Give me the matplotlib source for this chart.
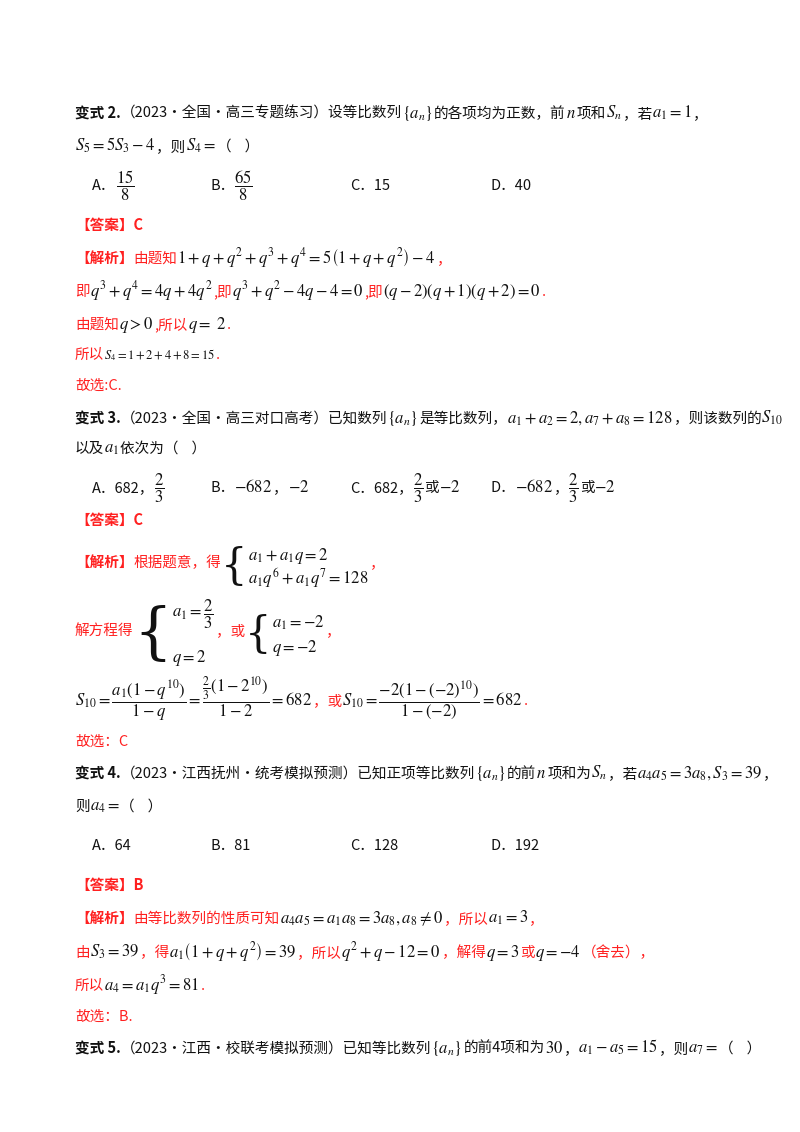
import matplotlib
matplotlib.use('Agg')
import matplotlib.pyplot as plt

plt.rcParams['mathtext.fontset'] = 'stix'
plt.rcParams['font.family'] = ['Noto Sans CJK SC', 'DejaVu Sans']

W, H = 800, 1132
RED = '#ff2020'
BLK = '#111111'

# 每行：(基线像素 y, 起点 x, 片段列表)
# 片段: ('b', 文字) 加粗黑; ('t', 文字) 黑; ('r', 文字) 红; ('rb', 文字) 红粗; ('m', 公式); ('sys', [式1, 式2])
LINES = [
    (118, 75, [('b', '变式 2.'), ('t', '（2023·全国·高三专题练习）设等比数列'), ('m', r'\{a_n\}'),
               ('t', '的各项均为正数，前'), ('m', 'n'), ('t', '项和'), ('m', 'S_n'), ('t', '，若'),
               ('m', 'a_1=1'), ('t', '，')]),
    (151, 75, [('m', 'S_5=5S_3-4'), ('t', '，则'), ('m', 'S_4='), ('t', '（    ）')]),
    (190, 92, [('t', 'A．'), ('m', r'\dfrac{15}{8}')]),
    (190, 210, [('t', 'B．'), ('m', r'\dfrac{65}{8}')]),
    (190, 350, [('t', 'C．15')]),
    (190, 490, [('t', 'D．40')]),
    (230, 75, [('rb', '【答案】C')]),
    (263, 75, [('rb', '【解析】'), ('r', '由题知'), ('m', r'1+q+q^2+q^3+q^4=5\left(1+q+q^2\right)-4'), ('r', '，')]),
    (296, 75, [('r', '即'), ('m', 'q^3+q^4=4q+4q^2'), ('r', ',即'), ('m', 'q^3+q^2-4q-4=0'),
               ('r', ',即'), ('m', '(q-2)(q+1)(q+2)=0'), ('r', '.')]),
    (329, 75, [('r', '由题知'), ('m', 'q>0'), ('r', ',所以'), ('m', r'q=\ 2'), ('r', '.')]),
    (359, 75, [('r', '所以'), ('ms', 'S_4=1+2+4+8=15'), ('r', '.')]),
    (390, 75, [('r', '故选:C.')]),
    (423, 75, [('b', '变式 3.'), ('t', '（2023·全国·高三对口高考）已知数列'), ('m', r'\{a_n\}'),
               ('t', '是等比数列，'), ('m', 'a_1+a_2=2,a_7+a_8=128'), ('t', '，则该数列的'), ('m', 'S_{10}')]),
    (453, 75, [('t', '以及'), ('m', 'a_1'), ('t', '依次为（    ）')]),
    (492, 92, [('t', 'A．682，'), ('m', r'\dfrac{2}{3}')]),
    (492, 210, [('t', 'B．'), ('m', '-682'), ('t', '，'), ('m', '-2')]),
    (492, 350, [('t', 'C．682，'), ('m', r'\dfrac{2}{3}'), ('t', '或'), ('m', '-2')]),
    (492, 490, [('t', 'D．'), ('m', '-682'), ('t', '，'), ('m', r'\dfrac{2}{3}'), ('t', '或'), ('m', '-2')]),
    (525, 75, [('rb', '【答案】C')]),
    (567, 75, [('rb', '【解析】'), ('r', '根据题意，得'), ('sys', ['a_1+a_1q=2', 'a_1q^6+a_1q^7=128']), ('r', '，')]),
    (635, 75, [('r', '解方程得'), ('sys', [r'a_1=\dfrac{2}{3}', 'q=2']), ('r', '，或'),
               ('sys', ['a_1=-2', 'q=-2']), ('r', '，')]),
    (705, 75, [('m', r'S_{10}=\dfrac{a_1(1-q^{10})}{1-q}=\dfrac{\frac{2}{3}(1-2^{10})}{1-2}=682'), ('r', '，或'),
               ('m', r'S_{10}=\dfrac{-2(1-(-2)^{10})}{1-(-2)}=682'), ('r', '.')]),
    (746, 75, [('r', '故选：C')]),
    (778, 75, [('b', '变式 4.'), ('t', '（2023·江西抚州·统考模拟预测）已知正项等比数列'), ('m', r'\{a_n\}'),
               ('t', '的前'), ('m', 'n'), ('t', '项和为'), ('m', 'S_n'), ('t', '，若'),
               ('m', 'a_4a_5=3a_8,S_3=39'), ('t', '，')]),
    (811, 75, [('t', '则'), ('m', 'a_4='), ('t', '（    ）')]),
    (850, 92, [('t', 'A．64')]),
    (850, 210, [('t', 'B．81')]),
    (850, 350, [('t', 'C．128')]),
    (850, 490, [('t', 'D．192')]),
    (890, 75, [('rb', '【答案】B')]),
    (923, 75, [('rb', '【解析】'), ('r', '由等比数列的性质可知'), ('m', r'a_4a_5=a_1a_8=3a_8,a_8\neq 0'),
               ('r', '，所以'), ('m', 'a_1=3'), ('r', '，')]),
    (957, 75, [('r', '由'), ('m', 'S_3=39'), ('r', '，得'), ('m', r'a_1\left(1+q+q^2\right)=39'), ('r', '，所以'),
               ('m', 'q^2+q-12=0'), ('r', '，解得'), ('m', 'q=3'), ('r', '或'), ('m', 'q=-4'), ('r', '（舍去），')]),
    (990, 75, [('r', '所以'), ('m', 'a_4=a_1q^3=81'), ('r', '.')]),
    (1021, 75, [('r', '故选：B.')]),
    (1053, 75, [('b', '变式 5.'), ('t', '（2023·江西·校联考模拟预测）已知等比数列'), ('m', r'\{a_n\}'),
                ('t', '的前4项和为'), ('m', '30'), ('t', '，'), ('m', 'a_1-a_5=15'), ('t', '，则'),
                ('m', 'a_7='), ('t', '（    ）')]),
]

fig = plt.figure(figsize=(W / 100, H / 100), dpi=100)
fig.patch.set_facecolor('white')
renderer = fig.canvas.get_renderer()


def put(x, y, s, **kw):
    t = fig.text(x / W, 1 - y / H, s, va='baseline', ha='left', **kw)
    bb = t.get_window_extent(renderer)
    return bb.width


def draw_line(y, x, segs):
    for kind, val in segs:
        if kind in ('t', 'b', 'r', 'rb'):
            color = RED if kind.startswith('r') else BLK
            weight = 'bold' if kind.endswith('b') else 'normal'
            x += put(x, y, val, fontsize=10.5, color=color, fontweight=weight)
        elif kind == 'm':
            x += put(x, y, '$' + val + '$', fontsize=12, color=BLK) + 1
        elif kind == 'ms':
            x += put(x, y, '$' + val + '$', fontsize=9, color=BLK) + 1
        elif kind == 'sys':
            tall = any('frac' in v for v in val)
            dy = 22 if tall else 12
            fs = 44 if tall else 30
            # 大括号竖直居中于两行之间
            t = fig.text(x / W, 1 - y / H, '{', fontsize=fs, color=BLK, family='DejaVu Serif',
                         va='center', ha='left', fontweight='light')
            bw = t.get_window_extent(renderer).width
            w1 = put(x + bw, y - dy + 5, '$' + val[0] + '$', fontsize=12, color=BLK)
            w2 = put(x + bw, y + dy + 5, '$' + val[1] + '$', fontsize=12, color=BLK)
            x += bw + max(w1, w2) + 2


for y, x, segs in LINES:
    draw_line(y, x, segs)

fig.savefig('out.png', dpi=100, facecolor='white')
